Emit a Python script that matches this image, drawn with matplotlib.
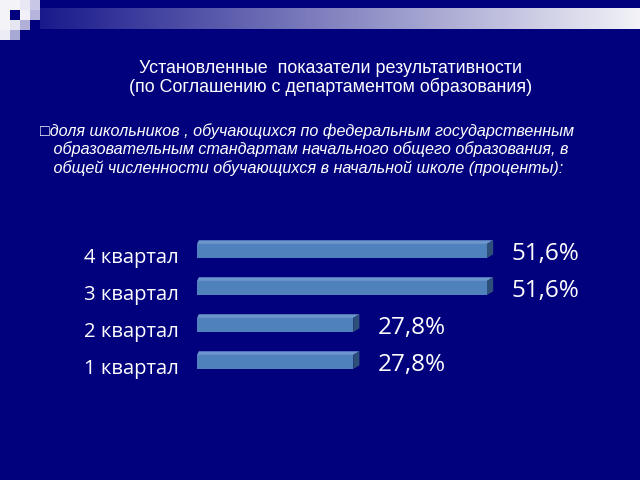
import numpy as np
import matplotlib
matplotlib.use("Agg")
import matplotlib.pyplot as plt
from matplotlib.patches import Polygon, Rectangle
from matplotlib import transforms

# data
quarters = ["1 квартал", "2 квартал", "3 квартал", "4 квартал"]
values = [27.8, 27.8, 51.6, 51.6]
value_labels = ["27,8%", "27,8%", "51,6%", "51,6%"]

title = "Установленные  показатели результативности\n(по Соглашению с департаментом образования)"
body = ["\u25a1доля школьников , обучающихся по федеральным государственным",
        "   образовательным стандартам начального общего образования, в",
        "   общей численности обучающихся в начальной школе (проценты):"]

bg = "#01017e"
front = "#4f81bd"
side = "#2e4f7a"
top = "#6c97cc"

fig = plt.figure(figsize=(6.4, 4.8), dpi=100, facecolor=bg)

# header decoration: gradient band + squares
band = fig.add_axes([40 / 640, 1 - 29 / 480, 600 / 640, 21 / 480])
grad = np.linspace(0, 1, 256).reshape(1, -1)
c0 = np.array([0.10, 0.10, 0.55])
c1 = np.array([0.95, 0.95, 0.97])
img = c0[None, None, :] * (1 - grad[..., None]) + c1[None, None, :] * grad[..., None]
band.imshow(img, aspect="auto")
band.axis("off")

sq = fig.add_axes([0, 1 - 40 / 480, 40 / 640, 40 / 480])
sq.set_xlim(0, 4)
sq.set_ylim(4, 0)
sq.axis("off")
cells = [(0, 0, "#f4f4f8"), (1, 0, "#f4f4f8"), (2, 0, "#e8e8f4"), (3, 0, "#c8c8e6"),
         (0, 1, "#f4f4f8"), (1, 1, bg), (2, 1, "#f0f0f6"), (3, 1, "#b4b4dc"),
         (0, 2, "#f4f4f8"), (1, 2, "#e6e6f2"), (2, 2, "#b0b0d8"),
         (0, 3, "#ececf4"), (1, 3, "#a8a8d4")]
for cx, cy, col in cells:
    sq.add_patch(Rectangle((cx, cy), 1, 1, color=col, lw=0))

fig.text(0.516, 1 - 78 / 480, title, ha="center", va="center", color="white",
         fontsize=12.9, family="Liberation Sans", linespacing=1.05)
for i, line in enumerate(body):
    fig.text(40 / 640, 1 - (131 + 18.3 * i) / 480, line, ha="left", va="center",
             color="white", fontsize=11.6, style="italic", family="Liberation Sans")

# bar chart
ax = fig.add_axes([197 / 640, 1 - 379 / 480, 403 / 640, 148 / 480])
ax.set_facecolor(bg)
ax.set_xlim(0, 403 / 5.62)
ax.set_ylim(-0.5, 3.5)
ypos = np.arange(len(quarters))
h = 0.38
dx, dy = 1.1, 0.1
ax.barh(ypos - 0.04, values, height=h, color=front, zorder=2)
for y, v in zip(ypos - 0.04, values):
    y0, y1 = y - h / 2, y + h / 2
    ax.add_patch(Polygon([(0, y1), (v, y1), (v + dx, y1 + dy), (dx * 0.3, y1 + dy)],
                         closed=True, color=top, lw=0, zorder=2))
    ax.add_patch(Polygon([(v, y0), (v + dx, y0 + dy), (v + dx, y1 + dy), (v, y1)],
                         closed=True, color=side, lw=0, zorder=2))

for y, v, lab in zip(ypos, values, value_labels):
    ax.annotate(lab, (v, y), xytext=(18, -3), textcoords="offset points",
                ha="left", va="center", color="white", fontsize=17.5, family="Open Sans")

ax.set_yticks(ypos)
ax.set_yticklabels(quarters, color="white", fontsize=14.6, family="Open Sans",
                   fontweight="medium")
ax.tick_params(axis="y", length=0, pad=13.5)
shift = transforms.ScaledTranslation(0, -6 / 100, fig.dpi_scale_trans)
for t in ax.get_yticklabels():
    t.set_transform(t.get_transform() + shift)
ax.set_xticks([])
for s in ax.spines.values():
    s.set_visible(False)

fig.savefig("out.png", dpi=100, facecolor=bg)
